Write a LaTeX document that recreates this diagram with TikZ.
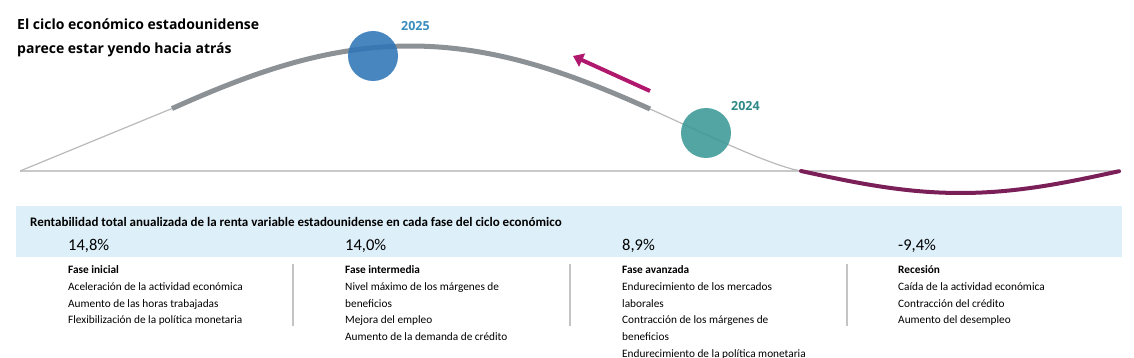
\documentclass[tikz,border=0pt]{standalone}
\usepackage{fontspec}
\setmainfont{Carlito}
\newfontfamily\titulofont{Open Sans}
\usetikzlibrary{arrows.meta,positioning}
\definecolor{ejegris}{HTML}{C9C9C9}
\definecolor{curvagris}{HTML}{B9B9B9}
\definecolor{fasegris}{HTML}{8C9196}
\definecolor{recmorado}{HTML}{7A1F57}
\definecolor{flechamag}{HTML}{B0186E}
\definecolor{azul25}{HTML}{2E75B6}
\definecolor{verde24}{HTML}{3A9896}
\definecolor{txt25}{HTML}{3A8DBD}
\definecolor{txt24}{HTML}{2E8A87}
\definecolor{bandazul}{HTML}{DDEFF9}
\definecolor{sepgris}{HTML}{C4C4C4}

\begin{document}
\begin{tikzpicture}[x=1pt, y=-1pt,
  eje/.style={draw=ejegris, line width=1.8pt},
  tenue/.style={draw=curvagris, line width=1.2pt},
  fase/.style={draw=fasegris, line width=5pt},
  recesion/.style={draw=recmorado, line width=4pt, line cap=round},
  bola/.style={circle, minimum size=50pt, inner sep=0pt, fill opacity=0.88},
  anio/.style={font=\titulofont\fontsize{12.5}{15}\selectfont\bfseries, inner sep=0pt},
  flecha/.style={-{Triangle[length=10pt, width=14pt]}, draw=flechamag, line width=4pt},
  banda/.style={fill=bandazul, inner sep=0pt, anchor=north west},
  cabecera/.style={font=\fontsize{13}{15}\selectfont\bfseries, inner sep=0pt, anchor=base west},
  pct/.style={font=\fontsize{16.5}{18}\selectfont, inner sep=0pt, anchor=base west},
  col/.style={font=\fontsize{11.3}{16.7}\selectfont, align=left, inner sep=0pt, anchor=north west},
  sep/.style={draw=sepgris, line width=1.2pt}]
  \useasboundingbox (0,0) rectangle (1134,358);
  % titulo
  \node[font=\titulofont\fontsize{14}{24}\selectfont\bfseries, align=left, inner sep=0pt, anchor=base west] (titulo) at (17,54)
    {El ciclo económico estadounidense\\parece estar yendo hacia atrás};
  % eje y ciclo
  \draw[eje] (20,171) -- (1120,171);
  \draw[tenue] (20,171) -- (172,108.5) plot[domain=172:801, samples=80] (\x,{171-125*abs(sin(0.23047*(\x-20)))*sqrt(sqrt(abs(sin(0.23047*(\x-20)))))});
  \draw[fase] plot[domain=172:650, samples=60] (\x,{171-125*abs(sin(0.23047*(\x-20)))*sqrt(sqrt(abs(sin(0.23047*(\x-20)))))});
  \draw[recesion] plot[domain=801:1119, samples=50] (\x,{171+22*sin(0.56426*(\x-801))});
  % posiciones
  \node[bola, fill=azul25] (c25) at (373,56) {};
  \node[bola, fill=verde24] (c24) at (706,133) {};
  \node[anio, text=txt25, anchor=base west] (l25) at (401,31) {2025};
  \node[anio, text=txt24, anchor=base west] (l24) at (731,111) {2024};
  % flecha
  \coordinate (fini) at (650,91);
  \coordinate (ffin) at (573,56);
  \draw[flecha] (fini) -- (ffin);
  % tabla
  \node[banda, minimum width=1106pt, minimum height=51pt] (tabla) at (16,206) {};
  \node[cabecera] (cab) at (30,226) {Rentabilidad total anualizada de la renta variable estadounidense en cada fase del ciclo económico};
  \node[pct] (p1) at (68,250.5) {14,8\%};
  \node[pct] (p2) at (345,250.5) {14,0\%};
  \node[pct] (p3) at (622,250.5) {8,9\%};
  \node[pct] (p4) at (898,250.5) {-9,4\%};
  \node[col] (f1) at (68,265.5) {\textbf{Fase inicial}\\Aceleración de la actividad económica\\Aumento de las horas trabajadas\\Flexibilización de la política monetaria};
  \node[col] (f2) at (345,265.5) {\textbf{Fase intermedia}\\Nivel máximo de los márgenes de\\beneficios\\Mejora del empleo\\Aumento de la demanda de crédito};
  \node[col] (f3) at (622,265.5) {\textbf{Fase avanzada}\\Endurecimiento de los mercados\\laborales\\Contracción de los márgenes de\\beneficios\\Endurecimiento de la política monetaria};
  \node[col] (f4) at (898,265.5) {\textbf{Recesión}\\Caída de la actividad económica\\Contracción del crédito\\Aumento del desempleo};
  % separadores
  \draw[sep] (293,264) -- (293,326);
  \draw[sep] (570,264) -- (570,326);
  \draw[sep] (847,264) -- (847,326);
\end{tikzpicture}
\end{document}
